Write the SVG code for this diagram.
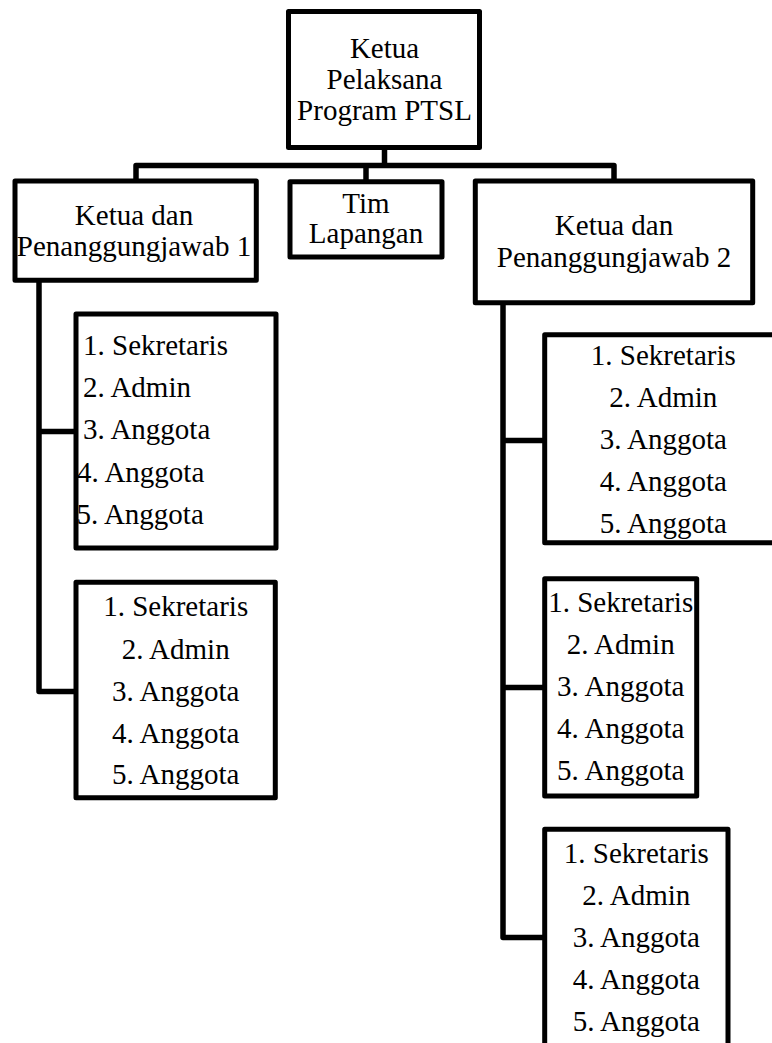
<svg xmlns="http://www.w3.org/2000/svg" width="772" height="1043" viewBox="0 0 772 1043">
<style>
.box{fill:#fff;stroke:#000;stroke-width:5;stroke-linejoin:round}
.ln{fill:none;stroke:#000;stroke-width:5.5;stroke-linejoin:round}
text{font-family:"Liberation Serif","Times New Roman",serif;font-size:29px;fill:#000}
.c{text-anchor:middle}
</style>
<rect width="772" height="1043" fill="#fff"/>
<g id="connectors">
<path class="ln" d="M384.5,147.5 V165.5"/>
<path class="ln" d="M136,181 V165.5 H614 V181"/>
<path class="ln" d="M366,165.5 V181.5"/>
<path class="ln" d="M39,280 V691.5 H76"/>
<path class="ln" d="M39,431.5 H76"/>
<path class="ln" d="M503,302.5 V937.5 H544.7"/>
<path class="ln" d="M503,440.5 H544.7"/>
<path class="ln" d="M503,687.5 H544.7"/>
</g>
<g id="node-ketua-pelaksana">
<rect class="box" x="288.5" y="11.5" width="191" height="136"/>
<text class="c" x="384.5" y="57.5">Ketua</text>
<text class="c" x="384.5" y="89">Pelaksana</text>
<text class="c" x="384.5" y="119.5">Program PTSL</text>
</g>
<g id="node-pj1">
<rect class="box" x="15" y="181" width="241.3" height="99.3"/>
<text class="c" x="134" y="225">Ketua dan</text>
<text class="c" x="134" y="255.5">Penanggungjawab 1</text>
</g>
<g id="node-tim">
<rect class="box" x="290" y="181.7" width="152" height="75.3"/>
<text class="c" x="366" y="212.5">Tim</text>
<text class="c" x="366" y="242.5">Lapangan</text>
</g>
<g id="node-pj2">
<rect class="box" x="475.3" y="181" width="277.4" height="121.7"/>
<text class="c" x="614" y="235">Ketua dan</text>
<text class="c" x="614" y="266.5">Penanggungjawab 2</text>
</g>
<g id="node-l1">
<rect class="box" x="76" y="314" width="200" height="234"/>
<text x="83" y="355">1. Sekretaris</text>
<text x="83" y="397.3">2. Admin</text>
<text x="83" y="439.3">3. Anggota</text>
<text x="77" y="481.7">4. Anggota</text>
<text x="76.5" y="524">5. Anggota</text>
</g>
<g id="node-l2">
<rect class="box" x="76" y="582.3" width="199.3" height="215.4"/>
<text class="c" x="175.7" y="616">1. Sekretaris</text>
<text class="c" x="175.7" y="658.5">2. Admin</text>
<text class="c" x="175.7" y="700.5">3. Anggota</text>
<text class="c" x="175.7" y="742.5">4. Anggota</text>
<text class="c" x="175.7" y="784">5. Anggota</text>
</g>
<g id="node-r1">
<rect class="box" x="544.7" y="334.7" width="237.3" height="208"/>
<text class="c" x="663.3" y="365">1. Sekretaris</text>
<text class="c" x="663.3" y="407.3">2. Admin</text>
<text class="c" x="663.3" y="449.3">3. Anggota</text>
<text class="c" x="663.3" y="491.3">4. Anggota</text>
<text class="c" x="663.3" y="533.3">5. Anggota</text>
</g>
<g id="node-r2">
<rect class="box" x="544.7" y="578.7" width="152" height="217.3"/>
<text class="c" x="620.7" y="611.7">1. Sekretaris</text>
<text class="c" x="620.7" y="654">2. Admin</text>
<text class="c" x="620.7" y="696">3. Anggota</text>
<text class="c" x="620.7" y="738.3">4. Anggota</text>
<text class="c" x="620.7" y="780">5. Anggota</text>
</g>
<g id="node-r3">
<rect class="box" x="544.7" y="829.3" width="183.3" height="230"/>
<text class="c" x="636.3" y="862.7">1. Sekretaris</text>
<text class="c" x="636.3" y="905">2. Admin</text>
<text class="c" x="636.3" y="946.7">3. Anggota</text>
<text class="c" x="636.3" y="989">4. Anggota</text>
<text class="c" x="636.3" y="1030.7">5. Anggota</text>
</g>
</svg>
